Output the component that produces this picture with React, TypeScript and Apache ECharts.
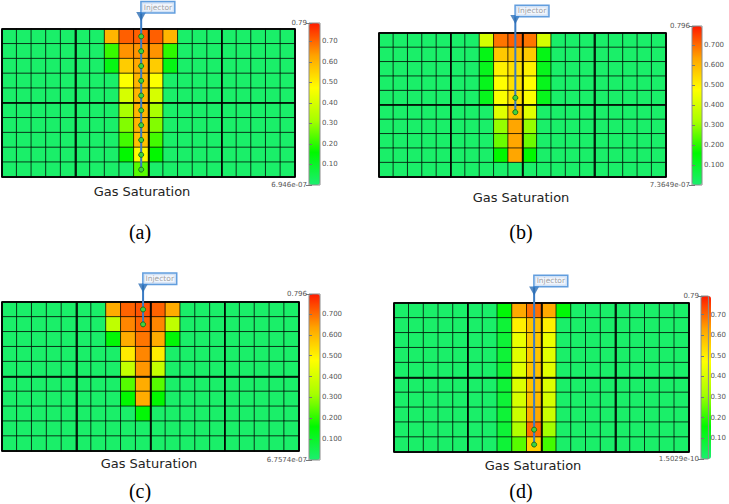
import React, { useEffect, useRef } from 'react';
import * as echarts from 'echarts';

// ---------- data ----------
const COLS = 20;
const ROWS = 10;
const colCats = Array.from({ length: COLS }, (_, i) => String(i + 1));
const rowCats = Array.from({ length: ROWS }, (_, i) => String(i + 1));

const BACKGROUND = 0.01; // all cells outside the plume block
const PLUME_COL0 = 7; // first (0-based) column of the plume block
const WELL_COL = 9; // injector column (0-based)

// plume block: rows 1..10 (top to bottom), columns 8..12
const plumeA = [
  [0.6, 0.71, 0.71, 0.71, 0.6],
  [0.21, 0.65, 0.65, 0.65, 0.2],
  [0.13, 0.56, 0.62, 0.56, 0.13],
  [0.01, 0.47, 0.6, 0.47, 0.01],
  [0.01, 0.4, 0.6, 0.4, 0.01],
  [0.01, 0.32, 0.6, 0.32, 0.01],
  [0.01, 0.28, 0.6, 0.28, 0.01],
  [0.01, 0.22, 0.58, 0.22, 0.01],
  [0.01, 0.16, 0.48, 0.16, 0.01],
  [0.01, 0.01, 0.24, 0.01, 0.01],
];
const plumeB = [
  [0.4, 0.69, 0.71, 0.69, 0.4],
  [0.13, 0.57, 0.58, 0.57, 0.13],
  [0.12, 0.5, 0.53, 0.5, 0.12],
  [0.12, 0.48, 0.53, 0.48, 0.12],
  [0.12, 0.47, 0.53, 0.47, 0.12],
  [0.01, 0.42, 0.58, 0.42, 0.01],
  [0.01, 0.3, 0.63, 0.3, 0.01],
  [0.01, 0.26, 0.63, 0.26, 0.01],
  [0.01, 0.16, 0.63, 0.16, 0.01],
  [0.01, 0.01, 0.01, 0.01, 0.01],
];
const plumeC = [
  [0.62, 0.71, 0.73, 0.71, 0.62],
  [0.36, 0.67, 0.71, 0.67, 0.36],
  [0.15, 0.62, 0.69, 0.62, 0.15],
  [0.01, 0.51, 0.67, 0.51, 0.01],
  [0.01, 0.37, 0.65, 0.37, 0.01],
  [0.01, 0.24, 0.62, 0.24, 0.01],
  [0.01, 0.16, 0.62, 0.16, 0.01],
  [0.01, 0.01, 0.15, 0.01, 0.01],
  [0.01, 0.01, 0.01, 0.01, 0.01],
  [0.01, 0.01, 0.01, 0.01, 0.01],
];
const plumeD = [
  [0.15, 0.62, 0.69, 0.62, 0.15],
  [0.08, 0.5, 0.58, 0.5, 0.01],
  [0.08, 0.44, 0.57, 0.44, 0.01],
  [0.08, 0.42, 0.57, 0.42, 0.01],
  [0.08, 0.42, 0.58, 0.42, 0.01],
  [0.08, 0.41, 0.58, 0.41, 0.01],
  [0.08, 0.4, 0.59, 0.4, 0.01],
  [0.08, 0.38, 0.62, 0.38, 0.01],
  [0.08, 0.33, 0.69, 0.31, 0.01],
  [0.08, 0.24, 0.55, 0.22, 0.01],
];

const perfsA = [0, 1, 2, 3, 4, 5, 6, 7, 8, 9];
const perfsB = [4, 5];
const perfsC = [0, 1];
const perfsD = [8, 9];

const maxVals = [0.79, 0.796, 0.796, 0.79];
const maxLabels = ['0.79', '0.796', '0.796', '0.79'];
const minLabels = ['6.946e-07', '7.3649e-07', '6.7574e-07', '1.5029e-10'];
const tickDecimals = [2, 3, 3, 2];
const captions = ['Gas Saturation', 'Gas Saturation', 'Gas Saturation', 'Gas Saturation'];
const tags = ['(a)', '(b)', '(c)', '(d)'];

const COLORMAP = ['#1cee70', '#00f800', '#a8ff00', '#ffff00', '#ffa200', '#ff1a00'];

// ---------- layout (pixels) ----------
const layouts = [
  { heat: [2, 29, 293, 148], bar: [309, 23, 11, 162], caption: [142, 191], tag: [140, 232], arrowY: -0.85, labelY: -1.47 },
  { heat: [379, 33, 287, 144], bar: [692, 26, 10, 159], caption: [521, 197], tag: [521, 232], arrowY: -0.94, labelY: -1.53 },
  { heat: [2, 302, 297, 149], bar: [309, 294, 11, 166], caption: [149, 463], tag: [140, 491], arrowY: -0.94, labelY: -1.56 },
  { heat: [394, 303, 295, 149], bar: [701, 296, 10, 163], caption: [533, 465], tag: [521, 491], arrowY: -0.8, labelY: -1.48 },
];

const panels = [
  { plume: plumeA, perfs: perfsA },
  { plume: plumeB, perfs: perfsB },
  { plume: plumeC, perfs: perfsC },
  { plume: plumeD, perfs: perfsD },
];

function buildHeatData(plume: number[][]) {
  const out: number[][] = [];
  for (let r = 0; r < ROWS; r++) {
    for (let c = 0; c < COLS; c++) {
      const k = c - PLUME_COL0;
      const v = k >= 0 && k < plume[r].length ? plume[r][k] : BACKGROUND;
      out.push([c, r, v]);
    }
  }
  return out;
}

function buildOption() {
  const grid: any[] = [];
  const xAxis: any[] = [];
  const yAxis: any[] = [];
  const series: any[] = [];
  const visualMap: any[] = [];
  const graphic: any[] = [];
  const FONT = 'DejaVu Sans';

  panels.forEach((p, i) => {
    const L = layouts[i];
    const maxV = maxVals[i];
    const [hl, ht, hw, hh] = L.heat;
    const [bl, bt, bw, bh] = L.bar;

    const gHeat = grid.length;
    grid.push({ left: hl, top: ht, width: hw, height: hh });
    const gOver = grid.length;
    grid.push({ left: hl, top: ht, width: hw, height: hh, show: true, borderColor: '#111', borderWidth: 1.5, backgroundColor: 'transparent', z: 10 });
    const gBar = grid.length;
    grid.push({ left: bl, top: bt, width: bw, height: bh, show: true, borderColor: '#8c8c8c', borderWidth: 1, backgroundColor: 'transparent', z: 10 });

    const xHeat = xAxis.length;
    xAxis.push({ type: 'category', gridIndex: gHeat, data: colCats, show: false });
    const xOver = xAxis.length;
    xAxis.push({
      type: 'value', gridIndex: gOver, min: 0, max: COLS, interval: 5, z: 10,
      axisLine: { show: false }, axisTick: { show: false }, axisLabel: { show: false },
      splitLine: { show: true, lineStyle: { color: '#000', width: 1.6 } },
    });
    const xBar = xAxis.length;
    xAxis.push({ type: 'value', gridIndex: gBar, min: 0, max: 1, show: false });

    const yHeat = yAxis.length;
    yAxis.push({ type: 'category', gridIndex: gHeat, data: rowCats, inverse: true, show: false });
    const yOver = yAxis.length;
    yAxis.push({
      type: 'value', gridIndex: gOver, min: 0, max: ROWS, interval: 5, inverse: true, z: 10,
      axisLine: { show: false }, axisTick: { show: false }, axisLabel: { show: false },
      splitLine: { show: true, lineStyle: { color: '#000', width: 1.6 } },
    });
    yAxis.push({
      type: 'value', gridIndex: gBar, position: 'right', min: 0, max: maxV, interval: 0.1, z: 11,
      axisLine: { show: false },
      axisTick: { show: true, length: 3, lineStyle: { color: '#777', width: 1 } },
      axisLabel: {
        fontSize: 7, color: '#555', margin: 2, fontFamily: FONT,
        formatter: (v: number) => (v <= 1e-9 || v >= maxV - 1e-6 ? '' : v.toFixed(tickDecimals[i])),
      },
      splitLine: { show: false },
    });
    yAxis.push({
      type: 'value', gridIndex: gBar, position: 'left', min: 0, max: maxV, interval: maxV, z: 11,
      axisLine: { show: false },
      axisTick: { show: true, length: 3, lineStyle: { color: '#777', width: 1 } },
      axisLabel: {
        fontSize: 7, color: '#555', margin: 2, fontFamily: FONT,
        formatter: (v: number) => (v < maxV / 2 ? minLabels[i] : maxLabels[i]),
      },
      splitLine: { show: false },
    });

    const heatIdx = series.length;
    series.push({
      type: 'heatmap', xAxisIndex: xHeat, yAxisIndex: yHeat,
      data: buildHeatData(p.plume), silent: true,
      itemStyle: { borderColor: 'rgba(0,0,0,0.72)', borderWidth: 1 },
      emphasis: { disabled: true },
    });
    const wellX = WELL_COL + 0.5;
    series.push({
      type: 'line', xAxisIndex: xOver, yAxisIndex: yOver, z: 20, clip: false, silent: true,
      data: [
        { value: [wellX, L.arrowY - 0.3], symbol: 'none' },
        ...p.perfs.map((r) => ({ value: [wellX, r + 0.5] })),
      ],
      symbol: 'circle', symbolSize: 5, showSymbol: true, showAllSymbol: true,
      lineStyle: { color: '#3b7cc4', width: 2 },
      itemStyle: { color: '#3fd33f', borderColor: '#1b6e1b', borderWidth: 1 },
    });
    series.push({
      type: 'scatter', xAxisIndex: xOver, yAxisIndex: yOver, z: 21, clip: false, silent: true,
      data: [[wellX, L.arrowY]],
      symbol: 'triangle', symbolRotate: 180, symbolSize: [10, 9],
      itemStyle: { color: '#2c6db4' },
    });
    series.push({
      type: 'scatter', xAxisIndex: xOver, yAxisIndex: yOver, z: 22, clip: false, silent: true,
      data: [[wellX, L.labelY]],
      symbolSize: 1, itemStyle: { color: 'rgba(0,0,0,0)' },
      label: {
        show: true, position: 'right', distance: 0, formatter: 'Injector',
        fontSize: 7.5, fontFamily: FONT, color: '#8a8a8a',
        backgroundColor: '#eef3fb', borderColor: '#3b86d6', borderWidth: 1.5, padding: [1, 2],
      },
    });

    visualMap.push({
      type: 'continuous', seriesIndex: heatIdx, min: 0, max: maxV,
      calculable: false, show: true, left: bl, top: bt, itemWidth: bw, itemHeight: bh,
      padding: 0, inRange: { color: COLORMAP },
    });

    graphic.push({
      type: 'text', x: L.caption[0], y: L.caption[1],
      style: { text: captions[i], fontFamily: FONT, fontSize: 13, fill: '#222', align: 'center', verticalAlign: 'middle' },
    });
    graphic.push({
      type: 'text', x: L.tag[0], y: L.tag[1],
      style: { text: tags[i], fontFamily: 'Liberation Serif', fontSize: 20, fill: '#000', align: 'center', verticalAlign: 'middle' },
    });
  });

  return { animation: false, backgroundColor: '#fff', grid, xAxis, yAxis, series, visualMap, graphic };
}

export default function App() {
  const ref = useRef<HTMLDivElement>(null);
  useEffect(() => {
    if (!ref.current) return;
    const chart = echarts.init(ref.current, undefined, { renderer: 'svg' });
    chart.setOption(buildOption() as any);
    return () => chart.dispose();
  }, []);
  return <div ref={ref} style={{ position: 'absolute', left: 0, top: 0, width: 729, height: 504 }} />;
}
